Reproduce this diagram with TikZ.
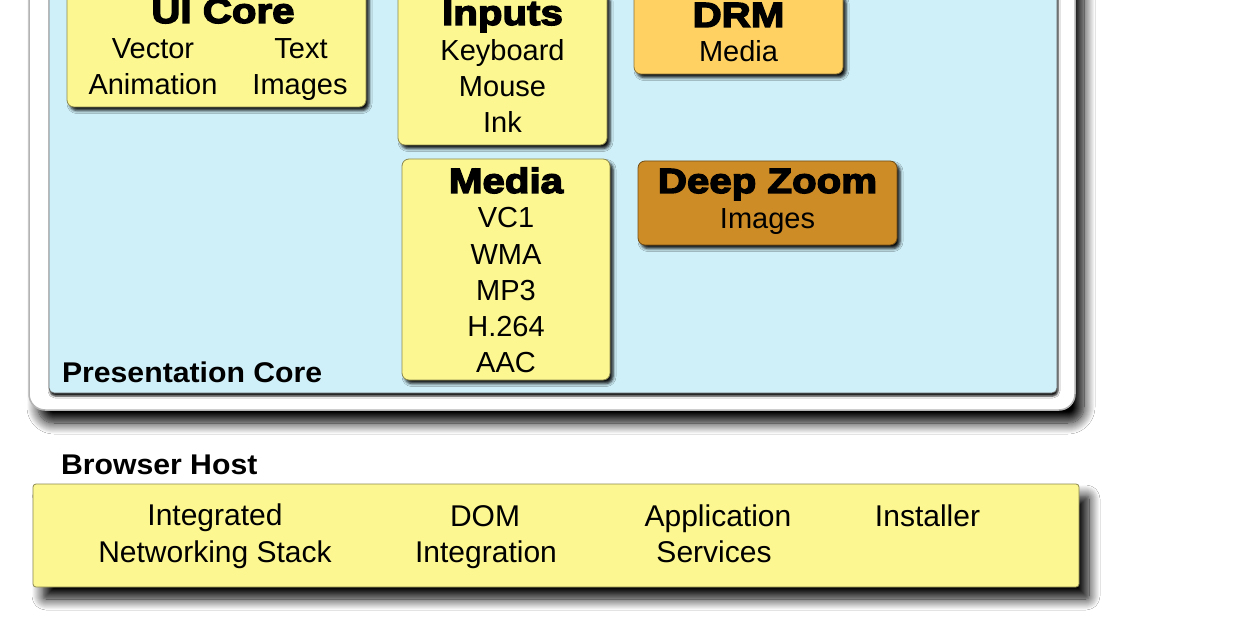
\documentclass[tikz,border=0pt]{standalone}
\usepackage{fontspec}
\setmainfont{Liberation Sans}
\newfontfamily\ttlfont{Liberation Sans Bold}[FakeStretch=1.15,FakeBold=4]
\newfontfamily\lblfont{Liberation Sans}[BoldFeatures={FakeStretch=1.06}]
\usetikzlibrary{shadows.blur}
\definecolor{yel}{HTML}{FCF790}
\definecolor{panel}{HTML}{CFF0F9}
\definecolor{drm}{HTML}{FED162}
\definecolor{dz}{HTML}{CE8C27}
\definecolor{framegray}{HTML}{B4B4B4}
\begin{document}
\begin{tikzpicture}[x=1pt,y=-1pt,
  every node/.style={inner sep=0pt, outer sep=0pt},
  txt/.style={anchor=base, font=\fontsize{29}{36}\selectfont},
  btxt/.style={anchor=base, font=\fontsize{30}{36}\selectfont},
  ttl/.style={anchor=base, font=\ttlfont\fontsize{35}{36}\selectfont},
  lbl/.style={anchor=base west, font=\lblfont\bfseries\fontsize{28.5}{34}\selectfont},
  box/.style={draw=#1!55!black, fill=#1, line width=0.8pt, rounded corners=7pt,
    blur shadow={shadow xshift=3pt, shadow yshift=-3.5pt, shadow blur radius=3pt, shadow opacity=95}},
  frame/.style={draw=framegray, fill=white, line width=1.5pt, rounded corners=16pt,
    blur shadow={shadow xshift=9pt, shadow yshift=-13pt, shadow blur radius=11pt, shadow opacity=100, shadow blur steps=12}},
  panelbox/.style={draw=gray!80!black, fill=panel, line width=0.8pt, rounded corners=5pt,
    blur shadow={shadow xshift=1pt, shadow yshift=-3pt, shadow blur radius=2pt, shadow opacity=95}},
  hostbox/.style={draw=yel!55!black, fill=yel, line width=0.8pt, rounded corners=3pt,
    blur shadow={shadow xshift=10pt, shadow yshift=-12pt, shadow blur radius=11pt, shadow opacity=100, shadow blur steps=12}},
]
\clip (0,0) rectangle (1242,631);
\fill[white] (0,0) rectangle (1242,631);

% outer frame and presentation core panel
\node[frame, minimum width=1046pt, minimum height=450pt] (outer) at (552,185) {};
\node[panelbox, minimum width=1008pt, minimum height=423pt] (core) at (553,181.5) {};

% boxes
\node[box=yel, minimum width=299pt, minimum height=118pt] (uicore) at (216.5,48) {};
\node[box=yel, minimum width=209pt, minimum height=154pt] (inputs) at (502.5,68) {};
\node[box=drm, minimum width=209pt, minimum height=81pt] (drmbox) at (738.5,33.5) {};
\node[box=yel, minimum width=208pt, minimum height=221pt] (media) at (506,269.5) {};
\node[box=dz, minimum width=259pt, minimum height=84pt] (deepzoom) at (767.5,203) {};

% UI Core texts
\node[ttl] (t-ui) at (223,23) {UI Core};
\node[txt] (t-vector) at (153,59) {Vector};
\node[txt] (t-text) at (301,59) {Text};
\node[txt] (t-anim) at (153,95) {Animation};
\node[txt] (t-img) at (300,95) {Images};

% Inputs texts
\node[ttl] (t-inputs) at (502.5,25) {Inputs};
\node[txt] (t-kb) at (502.5,61) {Keyboard};
\node[txt] (t-mouse) at (502.5,97) {Mouse};
\node[txt] (t-ink) at (502.5,133) {Ink};

% DRM texts
\node[ttl] (t-drm) at (738.5,27) {DRM};
\node[txt] (t-drmmedia) at (738.5,62) {Media};

% Media texts
\node[ttl] (t-media) at (506,193) {Media};
\node[txt] (t-vc1) at (506,228) {VC1};
\node[txt] (t-wma) at (506,264) {WMA};
\node[txt] (t-mp3) at (506,300) {MP3};
\node[txt] (t-h264) at (506,336) {H.264};
\node[txt] (t-aac) at (506,372) {AAC};

% Deep Zoom texts
\node[ttl] (t-dz) at (767.5,193) {Deep Zoom};
\node[txt] (t-dzimg) at (767.5,229) {Images};

% labels
\node[lbl] (t-pc) at (62,382) {Presentation Core};
\node[lbl] (t-bh) at (61,474) {Browser Host};

% browser host
\node[hostbox, minimum width=1046pt, minimum height=103pt] (host) at (556,535.5) {};
\node[btxt] (t-int1) at (215,525) {Integrated};
\node[btxt] (t-int2) at (215,562) {Networking Stack};
\node[btxt] (t-dom1) at (485,526) {DOM};
\node[btxt] (t-dom2) at (486,562) {Integration};
\node[btxt] (t-app1) at (718,526) {Application};
\node[btxt] (t-app2) at (714,562) {Services};
\node[btxt] (t-inst) at (927.5,526) {Installer};
\end{tikzpicture}
\end{document}
